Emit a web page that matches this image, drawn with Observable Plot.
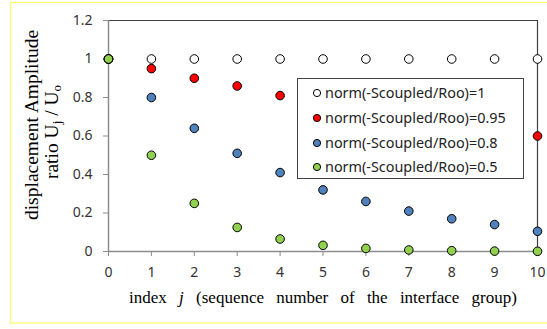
<!DOCTYPE html>
<html>
<head>
<meta charset="utf-8">
<script src="https://cdn.jsdelivr.net/npm/d3@7"></script>
<script src="https://cdn.jsdelivr.net/npm/@observablehq/plot@0.6"></script>
<style>
  html, body { margin: 0; padding: 0; background: #fff; }
  #chart { position: relative; width: 547px; height: 329px; overflow: hidden; }
</style>
</head>
<body>
<div id="chart"></div>
<script>
// Interface group index j
const indexJ = [0, 1, 2, 3, 4, 5, 6, 7, 8, 9, 10];

// Amplitude ratio Uj / U0 for each coupling level
const ratio100 = [1, 1, 1, 1, 1, 1, 1, 1, 1, 1, 1];
const ratio095 = [1, 0.95, 0.90, 0.86, 0.81, 0.77, 0.74, 0.70, 0.66, 0.63, 0.60];
const ratio080 = [1, 0.80, 0.64, 0.51, 0.41, 0.32, 0.26, 0.21, 0.17, 0.14, 0.105];
const ratio050 = [1, 0.50, 0.25, 0.125, 0.065, 0.032, 0.016, 0.008, 0.004, 0.002, 0.001];

const seriesNames = [
  "norm(-Scoupled/Roo)=1",
  "norm(-Scoupled/Roo)=0.95",
  "norm(-Scoupled/Roo)=0.8",
  "norm(-Scoupled/Roo)=0.5"
];
const seriesColors = ["#ffffff", "#ff0000", "#4f81bd", "#92d050"];

const xTicks = [0, 1, 2, 3, 4, 5, 6, 7, 8, 9, 10];
const yTicks = [0, 0.2, 0.4, 0.6, 0.8, 1, 1.2];

// Long-format table, one row per point
const seriesValues = [ratio100, ratio095, ratio080, ratio050];
const rows = seriesValues.flatMap((vals, s) =>
  indexJ.map((j, i) => ({ j, ratio: vals[i], series: seriesNames[s] }))
);

const W = 547, H = 329;
const mL = 108, mR = 10, mT = 20, mB = 78;

const chart = Plot.plot({
  width: W,
  height: H,
  marginLeft: mL,
  marginRight: mR,
  marginTop: mT,
  marginBottom: mB,
  style: { fontFamily: "'Noto Sans', sans-serif", fontSize: "14px", color: "#333", background: "transparent" },
  x: { domain: [0, 10] },
  y: { domain: [0, 1.2] },
  color: { domain: seriesNames, range: seriesColors },
  marks: [
    Plot.ruleY([1.2], { stroke: "#404040", strokeWidth: 1.2 }),
    Plot.ruleX([10], { stroke: "#404040", strokeWidth: 1.2 }),
    Plot.ruleX([0], { stroke: "#8c8c8c", strokeWidth: 1.5 }),
    Plot.ruleY([0], { stroke: "#8c8c8c", strokeWidth: 1.5 }),
    Plot.axisX({ ticks: xTicks, tickSize: 5, tickPadding: 11, stroke: "#8c8c8c", label: null, tickFormat: d => String(d) }),
    Plot.axisY({ ticks: yTicks, tickSize: 5, tickPadding: 11, stroke: "#8c8c8c", label: null, tickFormat: d => String(d) }),
    Plot.dot(rows, { x: "j", y: "ratio", fill: "series", stroke: "#000", strokeWidth: 1, r: 4.3 })
  ]
});

document.getElementById("chart").appendChild(chart);

const svg = d3.select(chart);

// Pale yellow outer frame
svg.insert("rect", ":first-child")
  .attr("x", 10.5).attr("y", 2.5)
  .attr("width", 560).attr("height", 320.5)
  .attr("fill", "none").attr("stroke", "#ffff66").attr("stroke-width", 1.2);

// Y axis title (two lines)
const serif = "'Liberation Serif', 'Times New Roman', serif";
svg.append("text")
  .attr("transform", "translate(38,125) rotate(-90)")
  .attr("text-anchor", "middle")
  .attr("font-family", serif).attr("font-size", 19.5).attr("fill", "#000")
  .text("displacement Amplitude");

const t2 = svg.append("text")
  .attr("transform", "translate(58,132) rotate(-90)")
  .attr("text-anchor", "middle")
  .attr("font-family", serif).attr("font-size", 19.5).attr("fill", "#000");
t2.append("tspan").text("ratio U");
t2.append("tspan").attr("font-size", 13).attr("dy", 3).text("j");
t2.append("tspan").attr("dy", -3).text(" / U");
t2.append("tspan").attr("font-size", 13).attr("dy", 3).text("o");

// X axis title
const xt = svg.append("text")
  .attr("x", 323).attr("y", 303)
  .attr("text-anchor", "middle")
  .attr("font-family", serif).attr("font-size", 17).attr("fill", "#000")
  .attr("word-spacing", 8);
xt.append("tspan").text("index ");
xt.append("tspan").attr("font-style", "italic").text("j");
xt.append("tspan").text(" (sequence number of the interface group)");

// Legend box drawn over the plot area
const lg = svg.append("g")
  .attr("font-family", "'Noto Sans', sans-serif")
  .attr("font-size", 14.4)
  .attr("text-anchor", "start");
lg.append("rect")
  .attr("x", 297.5).attr("y", 78.5).attr("width", 226).attr("height", 100)
  .attr("fill", "#fff").attr("stroke", "#404040").attr("stroke-width", 1);
const rowY = [93, 118, 143, 167];
seriesNames.forEach((name, i) => {
  lg.append("circle").attr("cx", 317).attr("cy", rowY[i]).attr("r", 3.6)
    .attr("fill", seriesColors[i]).attr("stroke", "#000").attr("stroke-width", 1);
  lg.append("text").attr("x", 325).attr("y", rowY[i]).attr("dy", "0.35em")
    .attr("fill", "#222").text(name);
});
</script>
</body>
</html>
